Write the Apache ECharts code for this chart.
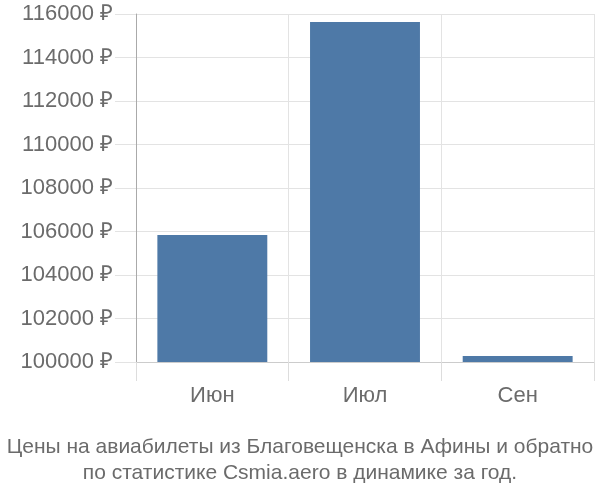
<!DOCTYPE html>
<html><head><meta charset="utf-8">
<script src="https://cdn.jsdelivr.net/npm/echarts@6/dist/echarts.min.js"></script>
<style>html,body{margin:0;padding:0;background:#fff}#c{width:600px;height:500px}</style>
</head><body><div id="c"></div>
<script>
const categories = ['Июн', 'Июл', 'Сен'];
const prices = [105840, 115630, 100280];
const yMin = 100000, yMax = 116000, yStep = 2000;
const titleLines = ['Цены на авиабилеты из Благовещенска в Афины и обратно', 'по статистике Csmia.aero в динамике за год.'];

const chart = echarts.init(document.getElementById('c'), null, {renderer: 'canvas'});
const font = 'Liberation Sans, Arial, sans-serif';
chart.setOption({
  animation: false,
  title: {
    text: titleLines.join('\n'), left: 'center', top: 429,
    textStyle: {color: '#6b6b6b', fontFamily: font, fontSize: 21, fontWeight: 'normal', lineHeight: 26}
  },
  grid: {left: 136, right: 6, top: 14, bottom: 138},
  xAxis: {
    type: 'category', data: categories,
    axisLine: {show: true, lineStyle: {color: '#cccccc', width: 1}},
    axisTick: {show: true, length: 19, lineStyle: {color: '#dddddd'}},
    splitLine: {show: true, lineStyle: {color: '#e3e3e3'}},
    axisLabel: {color: '#6b6b6b', fontFamily: font, fontSize: 22, margin: 23}
  },
  yAxis: {
    type: 'value', min: yMin, max: yMax, interval: yStep,
    axisLine: {show: true, lineStyle: {color: '#aaaaaa'}},
    axisTick: {show: true, length: 21, lineStyle: {color: '#e3e3e3'}},
    splitLine: {show: true, lineStyle: {color: '#e3e3e3'}},
    axisLabel: {color: '#6b6b6b', fontFamily: font, fontSize: 22, margin: 23, formatter: v => v + ' ₽'}
  },
  series: [{
    type: 'bar', data: prices, barCategoryGap: '28%',
    itemStyle: {color: '#4e79a7'}
  }]
});
</script></body></html>
